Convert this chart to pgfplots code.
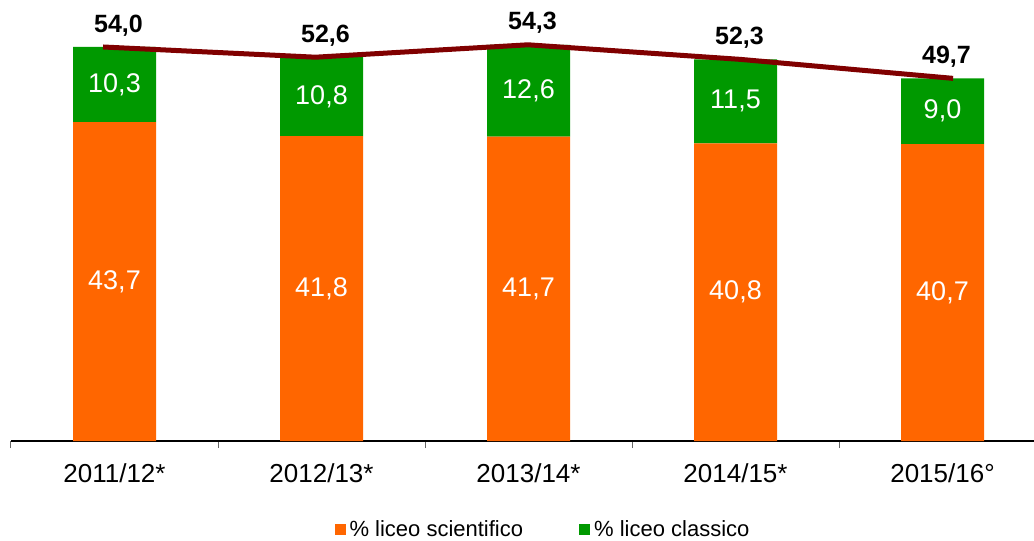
\documentclass[border=0pt]{standalone}
\usepackage{pgfplots}
\pgfplotsset{compat=1.18}
\usepackage{pgfplotstable}
\usepackage{fontspec}
\setmainfont{Liberation Sans}
\definecolor{orangeC}{HTML}{FF6600}
\definecolor{greenC}{HTML}{009900}
\definecolor{lineC}{HTML}{800000}
\pgfplotstableread{
x v lab
0 43.7 43,7
1 41.8 41,8
2 41.7 41,7
3 40.8 40,8
4 40.7 40,7
}\sci
\pgfplotstableread{
x v base lab
0 10.3 43.7 10,3
1 10.8 41.8 10,8
2 12.6 41.7 12,6
3 11.5 40.8 11,5
4 9.0 40.7 9,0
}\cla
\pgfplotstableread{
x v lab
0 54.0 54,0
1 52.6 52,6
2 54.3 54,3
3 52.3 52,3
4 49.7 49,7
}\tot
\begin{document}
\begin{tikzpicture}
\begin{axis}[
  scale only axis, width=511.5pt, height=220.5pt,
  xmin=-0.5, xmax=4.442, ymin=0, ymax=60.44,
  enlargelimits=false, clip=false,
  ybar stacked, bar width=41.5pt,
  hide y axis,
  axis x line*=bottom,
  x axis line style={black, line width=0.6pt, -},
  xtick={0,1,2,3,4},
  xticklabels={2011/12*,2012/13*,2013/14*,2014/15*,2015/16°},
  major tick length=0pt,
  minor xtick={-0.5,0.5,1.5,2.5,3.5},
  minor tick length=3.5pt,
  tick align=outside,
  minor tick style={gray!80!black, line width=0.5pt},
  xticklabel style={font=\fontsize{13}{15}\selectfont, yshift=-8pt},
  legend columns=2,
  legend style={draw=none, at={(0.521,-0.2018)}, anchor=center,
    font=\fontsize{11}{13}\selectfont,
    /tikz/every even column/.append style={column sep=26pt}},
]
\addplot[fill=orangeC, draw=none,
  legend image code/.code={\fill[orangeC] (0pt,-2.75pt) rectangle (5.5pt,2.75pt);}]
  table[x=x, y=v] {\sci};
\addlegendentry{\% liceo scientifico}
\addplot[fill=greenC, draw=none,
  legend image code/.code={\fill[greenC] (0pt,-2.75pt) rectangle (5.5pt,2.75pt);}]
  table[x=x, y=v] {\cla};
\addlegendentry{\% liceo classico}
\end{axis}
\begin{axis}[
  scale only axis, width=511.5pt, height=220.5pt,
  xmin=-0.433, xmax=4.381, ymin=0, ymax=60.44,
  enlargelimits=false, clip=false, hide axis,
]
\addplot[lineC, line width=2.5pt, mark=none]
  table[x=x, y=v] {\tot};
\end{axis}
\begin{axis}[
  scale only axis, width=511.5pt, height=220.5pt,
  xmin=-0.5, xmax=4.442, ymin=0, ymax=60.44,
  enlargelimits=false, clip=false, hide axis,
]
\addplot[only marks, mark=none,
  nodes near coords, point meta=explicit symbolic,
  every node near coord/.append style={text=white, anchor=center,
    font=\fontsize{13.5}{15}\selectfont}]
  table[x=x, y expr=\thisrow{v}/2, meta=lab] {\sci};
\addplot[only marks, mark=none,
  nodes near coords, point meta=explicit symbolic,
  every node near coord/.append style={text=white, anchor=center,
    font=\fontsize{13.5}{15}\selectfont}]
  table[x=x, y expr=\thisrow{base}+\thisrow{v}/2, meta=lab] {\cla};
\addplot[only marks, mark=none,
  nodes near coords, point meta=explicit symbolic,
  every node near coord/.append style={text=black, anchor=south,
    font=\bfseries\fontsize{12.5}{14}\selectfont, xshift=2pt, yshift=2pt}]
  table[x=x, y=v, meta=lab] {\tot};
\end{axis}
\pgfresetboundingbox
\path (-5.5pt,-50pt) rectangle (511.5pt,220.5pt);
\end{tikzpicture}
\end{document}
